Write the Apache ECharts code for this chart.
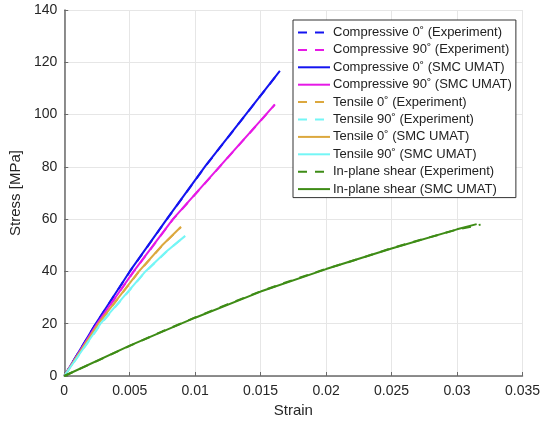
<!DOCTYPE html>
<html>
<head>
<meta charset="utf-8">
<script src="https://cdn.jsdelivr.net/npm/echarts@6/dist/echarts.min.js"></script>
<style>
  html, body { margin: 0; padding: 0; background: #fff; }
  #chart { width: 543px; height: 424px; }
</style>
</head>
<body>
<div id="chart"></div>
<script>
// 读图得到的数据 [strain, stress MPa]
var comp0Exp = [[0, 0], [0.0024, 19.9], [0.005, 39.9], [0.0079, 60.4], [0.0108, 80.4], [0.0139, 100.2], [0.01645, 116.5]];
var comp90Exp = [[0, 0], [0.0025, 19.9], [0.0053, 39.9], [0.0083, 59.9], [0.0119, 80.2], [0.0154, 99.9], [0.01607, 103.7]];
var comp0Smc = [[0, 0], [0.0024, 20], [0.005, 40], [0.0079, 60.5], [0.0108, 80.5], [0.0139, 100.3], [0.01647, 116.7]];
var comp90Smc = [[0, 0], [0.0025, 20], [0.0053, 40], [0.0083, 60], [0.0119, 80.3], [0.0154, 100], [0.01609, 103.9]];
var tens0Exp = [[0, 0], [0.0026, 19.9], [0.0057, 39.9], [0.0075, 50], [0.0089, 56.9]];
var tens90Exp = [[0, 0], [0.0028, 19.9], [0.0062, 39.9], [0.0078, 47.5], [0.0092, 53.5]];
var tens0Smc = [[0, 0], [0.0026, 20], [0.0057, 40], [0.0075, 50.1], [0.00892, 57.1]];
var tens90Smc = [[0, 0], [0.00277, 20], [0.0062, 40], [0.0078, 47.6], [0.00924, 53.6]];
var shearExp = [[0, 0], [0.005, 11.5], [0.0075, 17.1], [0.01, 22.4], [0.0125, 27.5], [0.015, 32.4], [0.0175, 36.8], [0.02, 41.0], [0.0225, 44.8], [0.025, 48.9], [0.0275, 52.5], [0.03, 56.0], [0.0318, 57.9]];
var shearSmc = [[0, 0], [0.005, 11.6], [0.01, 22.3], [0.015, 32.3], [0.02, 40.9], [0.025, 48.8], [0.03, 56.1], [0.0315, 58.1]];

var seriesNames = [
  'Compressive 0˚ (Experiment)',
  'Compressive 90˚ (Experiment)',
  'Compressive 0˚ (SMC UMAT)',
  'Compressive 90˚ (SMC UMAT)',
  'Tensile 0˚ (Experiment)',
  'Tensile 90˚ (Experiment)',
  'Tensile 0˚ (SMC UMAT)',
  'Tensile 90˚ (SMC UMAT)',
  'In-plane shear (Experiment)',
  'In-plane shear (SMC UMAT)'
];
var seriesData = [comp0Exp, comp90Exp, comp0Smc, comp90Smc, tens0Exp, tens90Exp, tens0Smc, tens90Smc, shearExp, shearSmc];
var seriesColors = ['#1414f0', '#e619e6', '#1414f0', '#e619e6', '#dca83e', '#74f6f6', '#dca83e', '#74f6f6', '#3e8c16', '#3e8c16'];
var seriesDashed = [true, true, false, false, true, true, false, false, true, false];

var font = 'Liberation Sans, Arial, Helvetica, sans-serif';

var chart = echarts.init(document.getElementById('chart'));

var series = seriesNames.map(function (name, i) {
  return {
    name: name,
    type: 'line',
    data: seriesData[i],
    symbol: 'none',
    lineStyle: {
      color: seriesColors[i],
      width: 2,
      type: seriesDashed[i] ? [9, 8] : 'solid'
    },
    itemStyle: { color: seriesColors[i] },
    animation: false
  };
});

var option = {
  backgroundColor: '#fff',
  grid: { left: 60, right: 18, top: 10, bottom: 48 },
  legend: {
    orient: 'vertical',
    left: 293,
    top: 20,
    padding: [6, 4, 2, 4],
    itemWidth: 32,
    itemHeight: 13,
    itemGap: 4.4,
    backgroundColor: '#fff',
    borderColor: '#333',
    borderWidth: 1,
    borderRadius: 0,
    itemStyle: { opacity: 0 },
    textStyle: { fontFamily: font, fontSize: 13, color: '#222', padding: [0, 0, 0, -2] },
    data: seriesNames
  },
  xAxis: {
    type: 'value',
    min: 0,
    max: 0.035,
    interval: 0.005,
    name: 'Strain',
    nameLocation: 'middle',
    nameGap: 27,
    nameTextStyle: { fontFamily: font, fontSize: 15, color: '#262626' },
    axisLine: { show: true, onZero: false, lineStyle: { color: '#6a6a6a', width: 1.5 } },
    axisTick: { show: true, inside: true, length: 4, lineStyle: { color: '#6a6a6a' } },
    axisLabel: { fontFamily: font, fontSize: 14, color: '#262626', margin: 8 },
    splitLine: { show: true, lineStyle: { color: '#e6e6e6', width: 1 } }
  },
  yAxis: {
    type: 'value',
    min: 0,
    max: 140,
    interval: 20,
    name: 'Stress [MPa]',
    nameLocation: 'middle',
    nameGap: 33,
    nameTextStyle: { fontFamily: font, fontSize: 15, color: '#262626' },
    axisLine: { show: true, onZero: false, lineStyle: { color: '#6a6a6a', width: 1.5 } },
    axisTick: { show: true, inside: true, length: 4, lineStyle: { color: '#6a6a6a' } },
    axisLabel: { fontFamily: font, fontSize: 14, color: '#262626', margin: 7 },
    splitLine: { show: true, lineStyle: { color: '#e6e6e6', width: 1 } }
  },
  series: series
};

chart.setOption(option);
</script>
</body>
</html>
